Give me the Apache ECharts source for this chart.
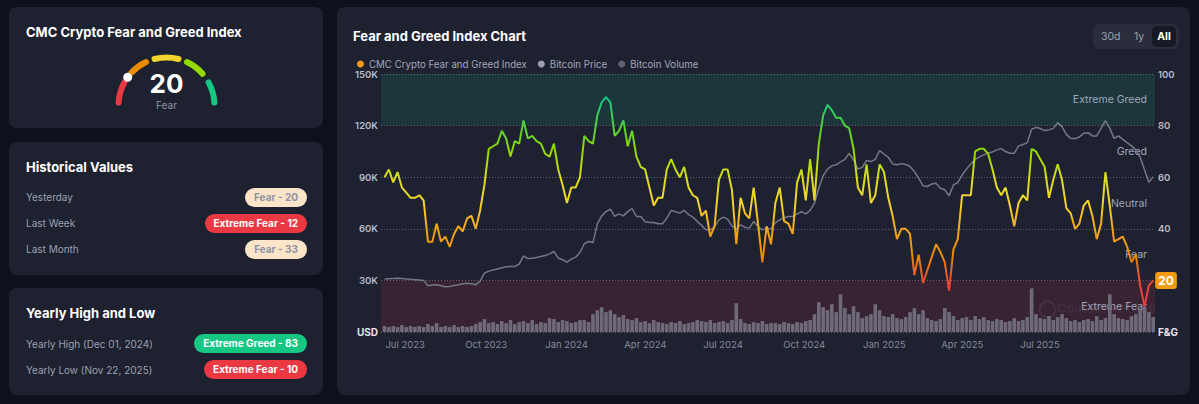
<!DOCTYPE html>
<html>
<head>
<meta charset="utf-8">
<script src="https://cdn.jsdelivr.net/npm/echarts@6/dist/echarts.min.js"></script>
<style>
  html,body{margin:0;padding:0;}
  body{position:relative;width:1199px;height:404px;overflow:hidden;background:#0d111b;font-family:Inter,"Noto Sans",sans-serif;}
  .card{position:absolute;background:#1e2130;border-radius:8px;}
  .t{position:absolute;white-space:nowrap;}
  .title{font-size:13px;font-weight:700;color:#ffffff;line-height:16px;}
  .lbl{font-size:10px;color:#9aa0b1;line-height:14px;}
  .pill{position:absolute;right:892px;height:19px;line-height:19px;border-radius:10px;padding:0 9px;font-size:10px;font-weight:700;white-space:nowrap;}
  .peach{background:#fbe4c8;color:#8e94a3;}
  .red{background:#ea3943;color:#ffffff;}
  .green{background:#16c784;color:#ffffff;}
  #btns{position:absolute;left:1093px;top:24px;width:86px;height:25px;background:#2a2e3c;border-radius:6px;}
  #btns span{position:absolute;top:0;line-height:25px;font-size:10.5px;color:#9aa0b1;}
  #btns .on{background:#171a25;color:#fff;font-weight:700;border-radius:5px;top:2px;height:21px;line-height:21px;width:24px;text-align:center;}
  #chart{position:absolute;left:0;top:0;width:1199px;height:404px;z-index:2;}
</style>
</head>
<body>
<div class="card" style="left:9px;top:7px;width:314px;height:121px"></div>
<div class="card" style="left:9px;top:142px;width:314px;height:133px"></div>
<div class="card" style="left:9px;top:288px;width:314px;height:107px"></div>
<div class="card" style="left:337px;top:7px;width:853px;height:388px"></div>

<div class="t title" style="left:26px;top:24px">CMC Crypto Fear and Greed Index</div>

<div class="t title" style="left:26px;top:159px">Historical Values</div>
<div class="t lbl" style="left:26px;top:190px">Yesterday</div>
<div class="t lbl" style="left:26px;top:216px">Last Week</div>
<div class="t lbl" style="left:26px;top:242px">Last Month</div>
<div class="pill peach" style="top:188px">Fear - 20</div>
<div class="pill red" style="top:214px">Extreme Fear - 12</div>
<div class="pill peach" style="top:240px">Fear - 33</div>

<div class="t title" style="left:26px;top:305px">Yearly High and Low</div>
<div class="t lbl" style="left:26px;top:337px">Yearly High (Dec 01, 2024)</div>
<div class="t lbl" style="left:26px;top:363px">Yearly Low (Nov 22, 2025)</div>
<div class="pill green" style="top:334px">Extreme Greed - 83</div>
<div class="pill red" style="top:360px">Extreme Fear - 10</div>

<div class="t title" style="left:353px;top:28px">Fear and Greed Index Chart</div>
<div id="btns">
  <span style="left:8px">30d</span>
  <span style="left:41px">1y</span>
  <span class="on" style="left:59px">All</span>
</div>

<div id="chart"></div>
<script>
// ---------------- data ----------------
const startDay = Date.UTC(2023, 5, 30);   // first sample
const stepDays = 5;
const axisStart = Date.UTC(2023, 5, 28);
const axisEnd = Date.UTC(2025, 11, 1);

// CMC Crypto Fear and Greed Index (0-100)
const fearGreed = [
  60,63,58,62,56,54,52,52,53,51, 35,35,42,35,37,33,38,41,39,44,
  45,40,47,57,71,72,73,78,75,68, 74,73,82,75,76,74,73,69,68,73,
  63,57,50,56,56,60,
  76,74,73,84,89,91,89,76,78,82, 72,78,68,64,63,56,49,52,52,63,
  67,63,60,64,56,53,52,45,47,37, 41,59,63,63,55,34,52,46,44,56,
  42,27,41,34,
  50,56,43,42,38,58,63,51,67,51, 73,84,88,86,83,83,80,79,71,56,
  53,65,50,53,65,62,52,45,36,40, 40,38,22,30,19,24,29,34,31,27,
  16,32,36,
  53,53,53,70,71,71,69,63,56,53, 56,49,41,50,53,51,71,70,67,64,
  52,59,65,59,48,46,40,42,49,51, 45,36,42,62,49,35,36,37,33,27,
  30,18,10,18,20
];

// Bitcoin price, thousands of USD
const btcPriceK = [
  30.8,31,31.1,31.3,31.1,30.8,30.6,30.4,30.2,30, 26.9,27.3,27.5,26.9,26.3,26.5,27.1,27.5,28,28.4,
  28,27.5,29.4,34.2,35.4,36,36.6,37.3,37.9,38.1, 38.1,39.5,44.3,42.7,42.9,43.3,43.9,44.5,45.4,46.8,
  43,42,40.6,42.4,43.5,46.2,
  51.3,52.6,52,62.9,67.5,70,71.4,67.2,68.7,67.5, 70,71.8,67.2,67.2,64.1,63.7,63.7,62.9,62.9,66.2,
  70.7,69.9,69.1,70.7,68.3,66.8,64.3,62,59.4,59.4, 61.3,65.2,66.8,65.6,61.7,59.8,62.3,60.9,60.4,64.3,
  61.3,59.4,60.4,59.8,
  63.6,65.2,66.4,67.2,67.2,68.7,69.9,68.7,70.7,74.9, 83.6,90.8,94.7,96.6,97.2,98.9,100.4,103.9,100,94.7,
  95.8,99.7,99.1,100.4,105.5,103.5,101.6,97.7,97.2,97.9, 97.4,96.2,93.3,89.4,85,84.6,86.1,86.5,83.6,82.7,
  79.2,85.5,86.9,
  91.3,94.7,97.7,100.4,101.8,103,104.1,104.7,105.9,106.6, 104.9,103.9,103.9,108.2,109,110.1,117.9,119,118.3,117.1,
  117.5,118.4,121.7,119.4,114.9,112.6,112.4,113.4,115.5,115.9, 114,114,118.4,122.9,118.4,112.6,114,112,110.1,108.2,
  105.9,101.6,94.3,87.1,90.2
];

// Bitcoin volume, billions of USD
const btcVolumeB = [
  12,10,12,10,14,10,12,10,12,10, 16,12,18,10,12,10,14,10,12,10,
  12,16,20,26,18,20,16,22,18,24, 16,20,22,18,24,16,20,18,28,26,
  20,24,22,18,20,24,
  24,20,36,44,50,40,44,36,30,34, 26,24,28,20,22,18,24,20,18,16,
  20,18,22,16,18,20,24,22,20,24, 18,20,22,18,24,58,26,18,16,20,
  18,22,16,18,
  18,16,20,18,16,20,18,22,24,36, 60,50,44,56,40,76,48,36,52,40,
  28,32,36,56,44,32,30,36,28,26, 30,40,48,36,44,28,24,22,26,48,
  40,32,24,
  28,30,24,32,26,30,24,22,26,24, 20,22,28,22,24,30,88,36,28,26,
  32,24,30,36,28,22,24,20,24,26, 22,32,24,28,76,36,28,26,24,32,
  36,44,50,40,30
];

// x-axis tick labels that the chart shows
const xTickLabels = ['Jul 2023', 'Oct 2023', 'Jan 2024', 'Apr 2024', 'Jul 2024', 'Oct 2024', 'Jan 2025', 'Apr 2025', 'Jul 2025'];

const zoneNames = ['Extreme Fear', 'Fear', 'Neutral', 'Greed', 'Extreme Greed'];
const zoneBounds = [0, 20, 40, 60, 80, 100];
const zoneFills = ['rgba(234,57,67,0.13)', 'rgba(0,0,0,0)', 'rgba(0,0,0,0)', 'rgba(0,0,0,0)', 'rgba(22,199,132,0.13)'];

const currentValue = 20;
const currentLabel = 'Fear';
const gaugeZoneStart = [2, 24, 42, 64, 84];
const gaugeZoneEnd = [16, 36, 58, 77, 98];
const gaugeColors = ['#ea3943', '#ea8c00', '#f3d42f', '#93d900', '#16c784'];

const monthNames = ['Jan','Feb','Mar','Apr','May','Jun','Jul','Aug','Sep','Oct','Nov','Dec'];
const legendNames = ['CMC Crypto Fear and Greed Index', 'Bitcoin Price', 'Bitcoin Volume'];

// ---------------- build ----------------
const DAY = 86400000;
const dates = fearGreed.map((_, i) => startDay + i * stepDays * DAY);
const fgData = fearGreed.map((v, i) => [dates[i], v]);
const priceData = btcPriceK.map((v, i) => [dates[i], v]);
const volData = btcVolumeB.map((v, i) => [dates[i], v]);

const zoneAreas = zoneNames.map((n, i) => [
  { yAxis: zoneBounds[i], name: n, itemStyle: { color: zoneFills[i] } },
  { yAxis: zoneBounds[i + 1] }
]);

const gaugeCenter = [166.5, 105.5];
const gaugeSegments = gaugeColors.map((c, i) => ({
  type: 'gauge', center: gaugeCenter, radius: 51,
  startAngle: 180 - 1.8 * gaugeZoneStart[i], endAngle: 180 - 1.8 * gaugeZoneEnd[i],
  min: 0, max: 1, silent: true,
  axisLine: { roundCap: true, lineStyle: { width: 6, color: [[1, c]] } },
  splitLine: { show: false }, axisTick: { show: false }, axisLabel: { show: false },
  pointer: { show: false }, anchor: { show: false }, title: { show: false }, detail: { show: false },
  data: []
}));

const gaugePointer = {
  type: 'gauge', center: gaugeCenter, radius: 51, startAngle: 180, endAngle: 0,
  min: 0, max: 100, silent: true,
  axisLine: { show: false }, splitLine: { show: false }, axisTick: { show: false }, axisLabel: { show: false },
  progress: { show: false }, anchor: { show: false },
  pointer: { show: true, icon: 'circle', length: 9, width: 9, offsetCenter: [0, -43.5], itemStyle: { color: '#ffffff' } },
  title: { show: true, offsetCenter: [0, -1], fontSize: 10, color: '#8f95a6', fontFamily: 'Inter' },
  detail: { show: true, offsetCenter: [0, -22.5], fontSize: 26, fontWeight: 'bold', color: '#ffffff', fontFamily: 'Inter', formatter: '{value}' },
  data: [{ value: currentValue, name: currentLabel }]
};

function fmtDate(val) {
  const d = new Date(val);
  return monthNames[d.getUTCMonth()] + ' ' + d.getUTCFullYear();
}

const chart = echarts.init(document.getElementById('chart'), null, { renderer: 'svg' });
chart.setOption({
  animation: false,
  backgroundColor: 'transparent',
  textStyle: { fontFamily: 'Inter, sans-serif' },
  legend: {
    left: 352, top: 54, icon: 'circle', itemWidth: 7, itemHeight: 7, itemGap: 11,
    textStyle: { color: '#a1a7bb', fontSize: 9.7 },
    selectedMode: false,
    data: [
      { name: legendNames[0], itemStyle: { color: '#f39c12' } },
      { name: legendNames[1], itemStyle: { color: '#9a9eae' } },
      { name: legendNames[2], itemStyle: { color: '#5d6170' } }
    ]
  },
  grid: { left: 381, right: 44, top: 74, bottom: 72 },
  xAxis: {
    type: 'time', min: axisStart, max: axisEnd, splitNumber: 20,
    axisLine: { show: false }, axisTick: { show: false }, splitLine: { show: false },
    axisLabel: {
      align: 'left', margin: 7, color: '#858b9b', fontSize: 9.5,
      showMinLabel: false, showMaxLabel: false, hideOverlap: false,
      formatter: function (val) {
        const d = new Date(val);
        if (d.getUTCDate() !== 1) return '';
        const s = fmtDate(val);
        return xTickLabels.indexOf(s) >= 0 ? s : '';
      }
    }
  },
  yAxis: [
    {
      type: 'value', position: 'left', min: 0, max: 150, interval: 30,
      axisLine: { show: false }, axisTick: { show: false }, splitLine: { show: false },
      axisLabel: {
        margin: 3, color: '#b7bccb', fontSize: 9.5, fontWeight: 600,
        formatter: v => v === 0 ? '{u|USD}' : v + 'K',
        rich: { u: { color: '#e4e6ec', fontWeight: 'bold', fontSize: 10 } }
      }
    },
    {
      type: 'value', position: 'right', min: 0, max: 100, interval: 20,
      axisLine: { show: false }, axisTick: { show: false },
      splitLine: { show: true, lineStyle: { color: '#5f6372', type: [1, 2], width: 1 } },
      axisLabel: {
        margin: 3, color: '#b7bccb', fontSize: 9.5, fontWeight: 600,
        formatter: v => v === 0 ? '{u|F&G}' : String(v),
        rich: { u: { color: '#e4e6ec', fontWeight: 'bold', fontSize: 10 } }
      }
    },
    { type: 'value', min: 0, max: 520, show: false, splitLine: { show: false } }
  ],
  visualMap: [{
    type: 'continuous', show: false, seriesIndex: 0, dimension: 1, min: 0, max: 100,
    inRange: { color: ['#ea3943', '#ea3943', '#ea4a36', '#ea8c00', '#f2a71c', '#f3d42f', '#d8dc22', '#93d900', '#52cf3c', '#16c784', '#16c784'] }
  }],
  series: [
    {
      name: legendNames[0], type: 'line', yAxisIndex: 1, z: 4,
      data: fgData, showSymbol: false, symbol: 'none',
      lineStyle: { width: 2 },
      endLabel: {
        show: true, distance: 2, formatter: p => String(p.value[1]),
        color: '#ffffff', fontWeight: 'bold', fontSize: 12,
        backgroundColor: '#f39c12', borderRadius: 3, padding: [3, 3, 2, 3]
      },
      markArea: {
        silent: true,
        label: { show: true, position: 'insideRight', distance: 8, color: '#a1a7bb', fontSize: 10.5 },
        data: zoneAreas
      }
    },
    {
      name: legendNames[1], type: 'line', yAxisIndex: 0, z: 3,
      data: priceData, showSymbol: false, symbol: 'none',
      itemStyle: { color: '#737888' },
      lineStyle: { width: 1.5, color: '#737888' }
    },
    {
      name: legendNames[2], type: 'bar', yAxisIndex: 2, z: 2,
      data: volData, barWidth: 3.6,
      itemStyle: { color: '#6f6a7a' }
    }
  ].concat(gaugeSegments, [gaugePointer]),
  graphic: [
    {
      type: 'circle', left: 1037, top: 299, silent: true,
      shape: { r: 8 }, style: { fill: 'none', stroke: 'rgba(255,255,255,0.07)', lineWidth: 2 }
    },
    {
      type: 'text', left: 1057, top: 301, silent: true,
      style: { text: 'CoinMarketCap', fill: 'rgba(255,255,255,0.06)', font: 'bold 13px Inter' }
    }
  ]
});
</script>
</body>
</html>
